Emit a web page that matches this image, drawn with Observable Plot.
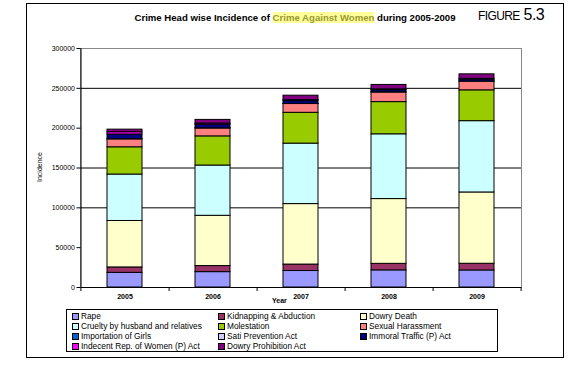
<!DOCTYPE html>
<html>
<head>
<meta charset="utf-8">
<script src="https://cdn.jsdelivr.net/npm/d3@7"></script>
<script src="https://cdn.jsdelivr.net/npm/@observablehq/plot@0.6"></script>
<style>
  html, body { margin: 0; padding: 0; background: #fff; }
  body { font-family: "Liberation Sans", Arial, sans-serif; }
  #wrap { position: relative; width: 587px; height: 372px; overflow: hidden; }
  .abs { position: absolute; white-space: nowrap; }
  #frame { left: 26px; top: 3px; width: 536px; height: 353px; border: 1px solid #000; }
  #title { left: 0; width: 590px; top: 12px; text-align: center; font-size: 9.6px; font-weight: bold; line-height: 11px; }
  #title span.hl { background: #ffff99; color: #999933; }
  #fig { left: 478px; top: 6px; font-family: "Liberation Sans Narrow", "Liberation Sans", Arial, sans-serif; line-height: 18px; letter-spacing: -0.6px; }
  #fig .a { font-size: 12px; }
  #fig .b { font-size: 16px; }
  #chart { left: 0; top: 0; }
  #yearlbl { left: 272px; top: 297px; font-size: 7px; font-weight: bold; line-height: 8px; }
  #inclbl { left: 40px; top: 167px; font-size: 7px; line-height: 8px; transform: translate(-50%, -50%) rotate(-90deg); }
  #legend { left: 66px; top: 309px; width: 430px; height: 41px; border: 1px solid #000; }
  .item { position: absolute; font-size: 8.3px; line-height: 10px; white-space: nowrap; }
  .sw { display: inline-block; width: 5px; height: 5px; border: 1px solid #000; margin-right: 2px; vertical-align: -0.5px; }
</style>
</head>
<body>
<div id="wrap">
  <div id="frame" class="abs"></div>
  <div id="title" class="abs">Crime Head wise Incidence of <span class="hl">Crime Against Women</span> during 2005-2009</div>
  <div id="fig" class="abs"><span class="a">FIGURE</span> <span class="b">5.3</span></div>
  <div id="chart" class="abs"></div>
  <div id="yearlbl" class="abs">Year</div>
  <div id="inclbl" class="abs">Incidence</div>
  <div id="legend" class="abs"></div>
</div>
<script>
// Years (categories on x)
const years = ["2005", "2006", "2007", "2008", "2009"];

// Series names (legend order = stacking order, bottom first)
const categories = [
  "Rape",
  "Kidnapping & Abduction",
  "Dowry Death",
  "Cruelty by husband and relatives",
  "Molestation",
  "Sexual Harassment",
  "Importation of Girls",
  "Sati Prevention Act",
  "Immoral Traffic (P) Act",
  "Indecent Rep. of Women (P) Act",
  "Dowry Prohibition Act"
];

const colors = [
  "#9999ff", "#993366", "#ffffcc", "#ccffff", "#99cc00", "#ff8080",
  "#0066cc", "#ccccff", "#000080", "#ff00ff", "#800080"
];

// Values (per year 2005..2009)
const rape             = [18400, 19300, 20700, 21500, 21400];
const kidnapping       = [6800, 7600, 8100, 8200, 8400];
const dowryDeath       = [58300, 63100, 75900, 81300, 89500];
const cruelty          = [58300, 63100, 75900, 81300, 89500];
const molestation      = [34200, 36600, 38700, 40400, 38700];
const sexualHarassment = [10000, 10000, 11000, 12200, 11000];
const importation      = [150, 70, 60, 70, 50];
const sati             = [0, 0, 0, 0, 0];
const immoralTraffic   = [5900, 4500, 3600, 2700, 2500];
const indecentRep      = [2900, 1600, 1200, 1000, 800];
const dowryProhibition = [3200, 4500, 5600, 5600, 5700];

const yTicks = [0, 50000, 100000, 150000, 200000, 250000, 300000];
const gridValues = [100000, 150000, 250000];

const series = [rape, kidnapping, dowryDeath, cruelty, molestation, sexualHarassment,
  importation, sati, immoralTraffic, indecentRep, dowryProhibition];

const table = years.flatMap((yr, i) =>
  series.map((s, j) => ({year: yr, category: categories[j], value: s[i]})));

const half = 88.2 / 2;

const chart = Plot.plot({
  width: 587,
  height: 310,
  marginLeft: 80.5,
  marginRight: 66,
  marginTop: 48,
  marginBottom: 23,
  style: {fontFamily: "'Liberation Sans', Arial, sans-serif", background: "transparent", overflow: "visible", color: "#000"},
  x: {domain: years, paddingInner: 0.6, paddingOuter: 0.3, label: null},
  y: {domain: [0, 300000], label: null},
  color: {domain: categories, range: colors},
  marks: [
    Plot.frame({stroke: "#888"}),
    Plot.ruleY(gridValues, {stroke: "#000"}),
    Plot.barY(table, {x: "year", y: "value", fill: "category", stroke: "#000", strokeWidth: 1}),
    Plot.ruleY([0], {stroke: "#000"}),
    Plot.ruleX([years[0]], {dx: -half, y1: 0, y2: 300000, stroke: "#000"}),
    Plot.ruleX(years, {dx: half, y1: 0, y2: -5000, stroke: "#000"}),
    Plot.ruleX([years[0]], {dx: -half, y1: 0, y2: -5000, stroke: "#000"}),
    Plot.axisY({ticks: yTicks, tickFormat: d => String(d), tickSize: 4, tickPadding: 2, fontSize: 7, label: null}),
    Plot.axisX({tickSize: 0, tickPadding: 7, fontSize: 7, fontWeight: "bold", label: null})
  ]
});
document.getElementById("chart").appendChild(chart);

// Legend
const legend = document.getElementById("legend");
const colX = [5, 151, 293];
categories.forEach((c, k) => {
  const row = Math.floor(k / 3), col = k % 3;
  const el = document.createElement("div");
  el.className = "item";
  el.style.left = colX[col] + "px";
  el.style.top = (1 + row * 10) + "px";
  el.innerHTML = `<span class="sw" style="background:${colors[k]}"></span>`;
  el.appendChild(document.createTextNode(c));
  legend.appendChild(el);
});
</script>
</body>
</html>
